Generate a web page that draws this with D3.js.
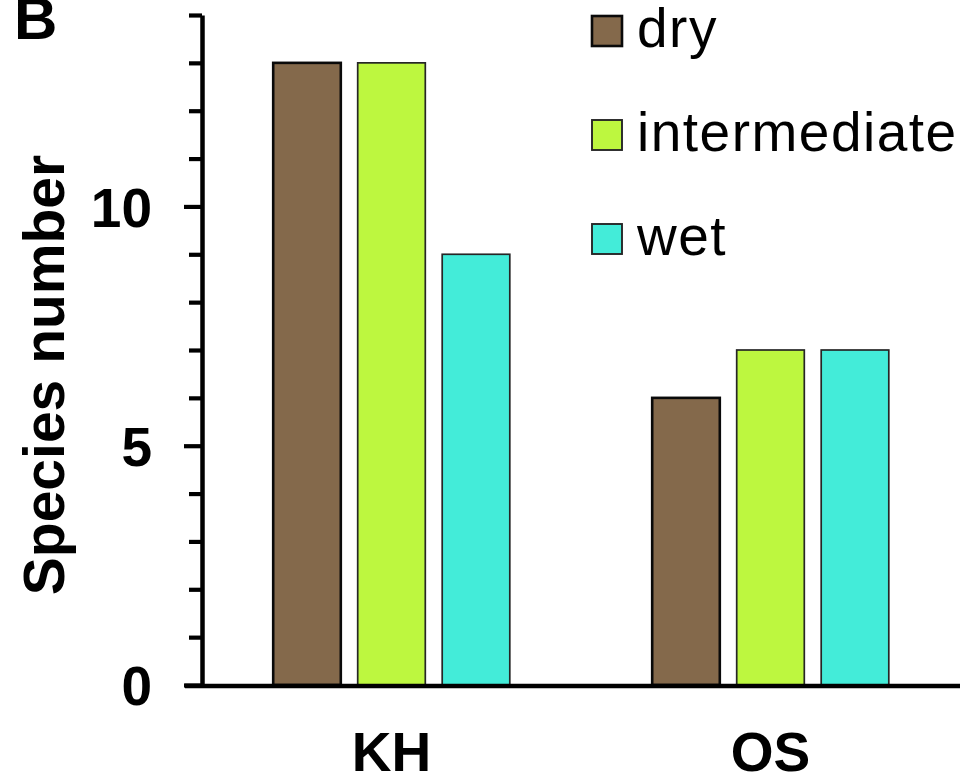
<!DOCTYPE html>
<html>
<head>
<meta charset="utf-8">
<script src="https://cdn.jsdelivr.net/npm/d3@7"></script>
<style>
  html, body { margin: 0; padding: 0; background: #fff; }
  svg { display: block; }
  text { font-family: "Liberation Sans", Arial, sans-serif; fill: #000; }
</style>
</head>
<body>
<svg id="chart" width="980" height="782"></svg>
<script>
const sites = ["KH", "OS"];
const series = ["dry", "intermediate", "wet"];
const dryValues = [13, 6];
const intermediateValues = [13, 7];
const wetValues = [9, 7];
const yTickValues = [0, 5, 10];
const colors = ["#84694b", "#bdf73f", "#43ecd9"];

const valuesBySeries = [dryValues, intermediateValues, wetValues];
const data = sites.map((s, i) => ({
  site: s,
  vals: series.map((k, j) => ({ key: k, value: valuesBySeries[j][i], idx: j }))
}));

const svg = d3.select("#chart");
const axisX = 202, axisBottom = 685, axisTop = 15, axisRight = 960;

const y = d3.scaleLinear().domain([0, 14]).range([axisBottom, axisTop]);
const x0 = d3.scaleBand().domain(sites).range([axisX, axisRight]).padding(0);
const x1 = d3.scaleBand().domain(series).range([0, 236.6]).paddingInner(0.2).paddingOuter(0);
const color = d3.scaleOrdinal().domain(series).range(colors);

// bars
const groups = svg.append("g").selectAll("g").data(data).join("g")
  .attr("transform", d => `translate(${x0(d.site) + x0.bandwidth() / 2 - 118.3},0)`);
groups.selectAll("rect").data(d => d.vals).join("rect")
  .attr("x", d => x1(d.key))
  .attr("y", d => y(d.value))
  .attr("width", x1.bandwidth())
  .attr("height", d => y(0) - y(d.value))
  .attr("fill", d => color(d.key))
  .attr("stroke", d => d.idx === 0 ? "#0a0a0a" : "#262626")
  .attr("stroke-width", d => d.idx === 0 ? 2.6 : 1.7);

// y axis
const yAxis = d3.axisLeft(y)
  .tickValues(d3.range(0, 15))
  .tickSize(13)
  .tickSizeOuter(0)
  .tickFormat(d => yTickValues.includes(d) ? d : "");
const gy = svg.append("g").attr("transform", `translate(${axisX},0)`).call(yAxis);
gy.select(".domain").attr("stroke", "#000").attr("stroke-width", 4.5);
gy.selectAll(".tick line").attr("stroke", "#000").attr("stroke-width", 4.2)
  .attr("x2", d => yTickValues.includes(d) ? -18 : -13);
gy.selectAll(".tick text")
  .attr("x", -50)
  .attr("dy", "0.36em")
  .style("font-size", "55px")
  .style("font-weight", "bold")
  .style("font-family", '"Liberation Sans", Arial, sans-serif');

// x axis line
svg.append("line")
  .attr("x1", axisX - 17).attr("x2", x0.range()[1])
  .attr("y1", y(0) + 1).attr("y2", y(0) + 1)
  .attr("stroke", "#000").attr("stroke-width", 4.5);

const xAxis = d3.axisBottom(x0).tickSize(0).tickSizeOuter(0);
const gx = svg.append("g").attr("transform", `translate(0,${axisBottom})`).call(xAxis);
gx.select(".domain").remove();
gx.selectAll(".tick text")
  .attr("y", 86)
  .attr("dy", 0)
  .style("font-size", "55px")
  .style("font-weight", "bold")
  .style("font-family", '"Liberation Sans", Arial, sans-serif');

// y title
svg.append("text")
  .attr("transform", `translate(64,375) rotate(-90)`)
  .attr("text-anchor", "middle")
  .style("font-size", "57px")
  .style("font-weight", "bold")
  .text("Species number");

// panel letter
svg.append("text")
  .attr("x", 14).attr("y", 39)
  .style("font-size", "60px")
  .style("font-weight", "bold")
  .text("B");

// legend
const legend = svg.append("g").selectAll("g").data(series).join("g")
  .attr("transform", (d, i) => `translate(592,${47 + i * 104})`);
legend.append("rect")
  .attr("x", 0).attr("y", -31)
  .attr("width", 30).attr("height", 30)
  .attr("fill", d => color(d))
  .attr("stroke", (d, i) => i === 0 ? "#0a0a0a" : "#262626")
  .attr("stroke-width", (d, i) => i === 0 ? 2.6 : 1.9);
legend.append("text")
  .attr("x", 45).attr("y", 0)
  .style("font-size", "55px")
  .style("letter-spacing", "1.5px")
  .text(d => d);
</script>
</body>
</html>
